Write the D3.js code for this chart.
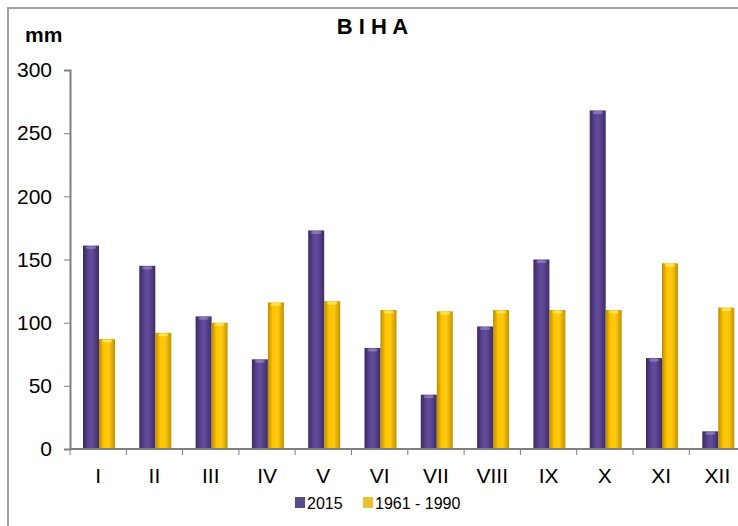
<!DOCTYPE html>
<html>
<head>
<meta charset="utf-8">
<title>BIHA</title>
<style>
  body { margin: 0; background: #fff; font-family: "Liberation Sans", Arial, sans-serif; }
</style>
<script src="https://d3js.org/d3.v7.min.js"></script>
</head>
<body>
<script>
// monthly precipitation, mm
var months = ["I","II","III","IV","V","VI","VII","VIII","IX","X","XI","XII"];
var series = ["2015", "1961 - 1990"];
var vals2015 = [161, 145, 105, 71, 173, 80, 43, 97, 150, 268, 72, 14];
var valsNorm = [87, 92, 100, 116, 117, 110, 109, 110, 110, 110, 147, 112];
var yTicks = [0, 50, 100, 150, 200, 250, 300];

var width = 738, height = 526;
var x0 = 70, y0 = 449, yTop = 70;
var bandW = 56.3;

var svg = d3.select("body").append("svg")
    .attr("width", width).attr("height", height);

// outer frame (right and bottom edges fall outside the picture)
svg.append("path")
    .attr("d", "M8,526 V8 H738")
    .attr("fill", "none").attr("stroke", "#a0a0a0").attr("stroke-width", 2);

var defs = svg.append("defs");
function grad(id, stops) {
  var g = defs.append("linearGradient").attr("id", id)
      .attr("x1", "0").attr("x2", "1").attr("y1", "0").attr("y2", "0");
  stops.forEach(function(s) {
    g.append("stop").attr("offset", s[0]).attr("stop-color", s[1]);
  });
}
grad("gPurple", [[0, "#3b2960"], [0.35, "#5d4795"], [0.55, "#634c9c"], [1, "#3e2c66"]]);
grad("gYellow", [[0, "#b98c00"], [0.3, "#ffc400"], [0.6, "#ffca10"], [1, "#c29300"]]);

var x = d3.scaleBand().domain(months)
    .range([x0, x0 + bandW * months.length]).paddingInner(0).paddingOuter(0);
var y = d3.scaleLinear().domain([0, 300]).range([y0, yTop]);

var inner = d3.scaleBand().domain(series).range([13, 45]);

// y axis
var yAxis = d3.axisLeft(y).tickValues(yTicks).tickSize(6).tickPadding(12);
var gy = svg.append("g").attr("transform", "translate(" + x0 + ",0)").call(yAxis);
gy.select(".domain").attr("stroke", "#808080").attr("stroke-width", 2);
gy.selectAll(".tick line").attr("stroke", "#808080");
gy.selectAll("text").attr("font-size", 21).attr("fill", "#000")
    .attr("font-family", "Liberation Sans, Arial, sans-serif");

// bars
var fills = { "2015": "url(#gPurple)", "1961 - 1990": "url(#gYellow)" };
var caps = { "2015": "#8a7ab8", "1961 - 1990": "#ffe65a" };
var rows = months.map(function(m, i) {
  return { m: m, vals: [{ s: series[0], v: vals2015[i] }, { s: series[1], v: valsNorm[i] }] };
});

var groups = svg.selectAll("g.month").data(rows).enter().append("g")
    .attr("class", "month")
    .attr("transform", function(d) { return "translate(" + x(d.m) + ",0)"; });

groups.selectAll("rect").data(function(d) { return d.vals; }).enter().append("rect")
    .attr("x", function(d) { return inner(d.s); })
    .attr("width", inner.bandwidth())
    .attr("y", function(d) { return y(d.v); })
    .attr("height", function(d) { return y0 - y(d.v); })
    .attr("fill", function(d) { return fills[d.s]; });

groups.selectAll("ellipse").data(function(d) { return d.vals; }).enter().append("ellipse")
    .attr("cx", function(d) { return inner(d.s) + inner.bandwidth() / 2; })
    .attr("cy", function(d) { return y(d.v) + 2; })
    .attr("rx", inner.bandwidth() / 2 - 3)
    .attr("ry", 1.6)
    .attr("fill", function(d) { return caps[d.s]; })
    .attr("opacity", 0.9);

// x axis
svg.append("line")
    .attr("x1", x0).attr("x2", width).attr("y1", y0).attr("y2", y0)
    .attr("stroke", "#808080").attr("stroke-width", 2);
svg.selectAll("line.xt").data(months).enter().append("line")
    .attr("class", "xt")
    .attr("x1", function(d) { return x(d); }).attr("x2", function(d) { return x(d); })
    .attr("y1", y0).attr("y2", y0 + 6)
    .attr("stroke", "#808080");
svg.selectAll("text.xl").data(months).enter().append("text")
    .attr("class", "xl")
    .attr("x", function(d) { return x(d) + bandW / 2; })
    .attr("y", 483)
    .attr("text-anchor", "middle")
    .attr("font-size", 21)
    .text(function(d) { return d; });

// titles
svg.append("text").attr("x", 25).attr("y", 42)
    .attr("font-size", 21).attr("font-weight", "bold").text("mm");
svg.append("text").attr("x", 372.5).attr("y", 34)
    .attr("text-anchor", "middle")
    .attr("font-size", 22).attr("font-weight", "bold")
    .text("B I H A");

// legend
var legX = [295, 363];
var legFill = ["#5a4a86", "#e8c030"];
series.forEach(function(s, i) {
  svg.append("rect").attr("x", legX[i]).attr("y", 497).attr("width", 10).attr("height", 11)
      .attr("fill", legFill[i]);
  svg.append("text").attr("x", legX[i] + 12).attr("y", 509)
      .attr("font-size", 16).text(s);
});
</script>
</body>
</html>
